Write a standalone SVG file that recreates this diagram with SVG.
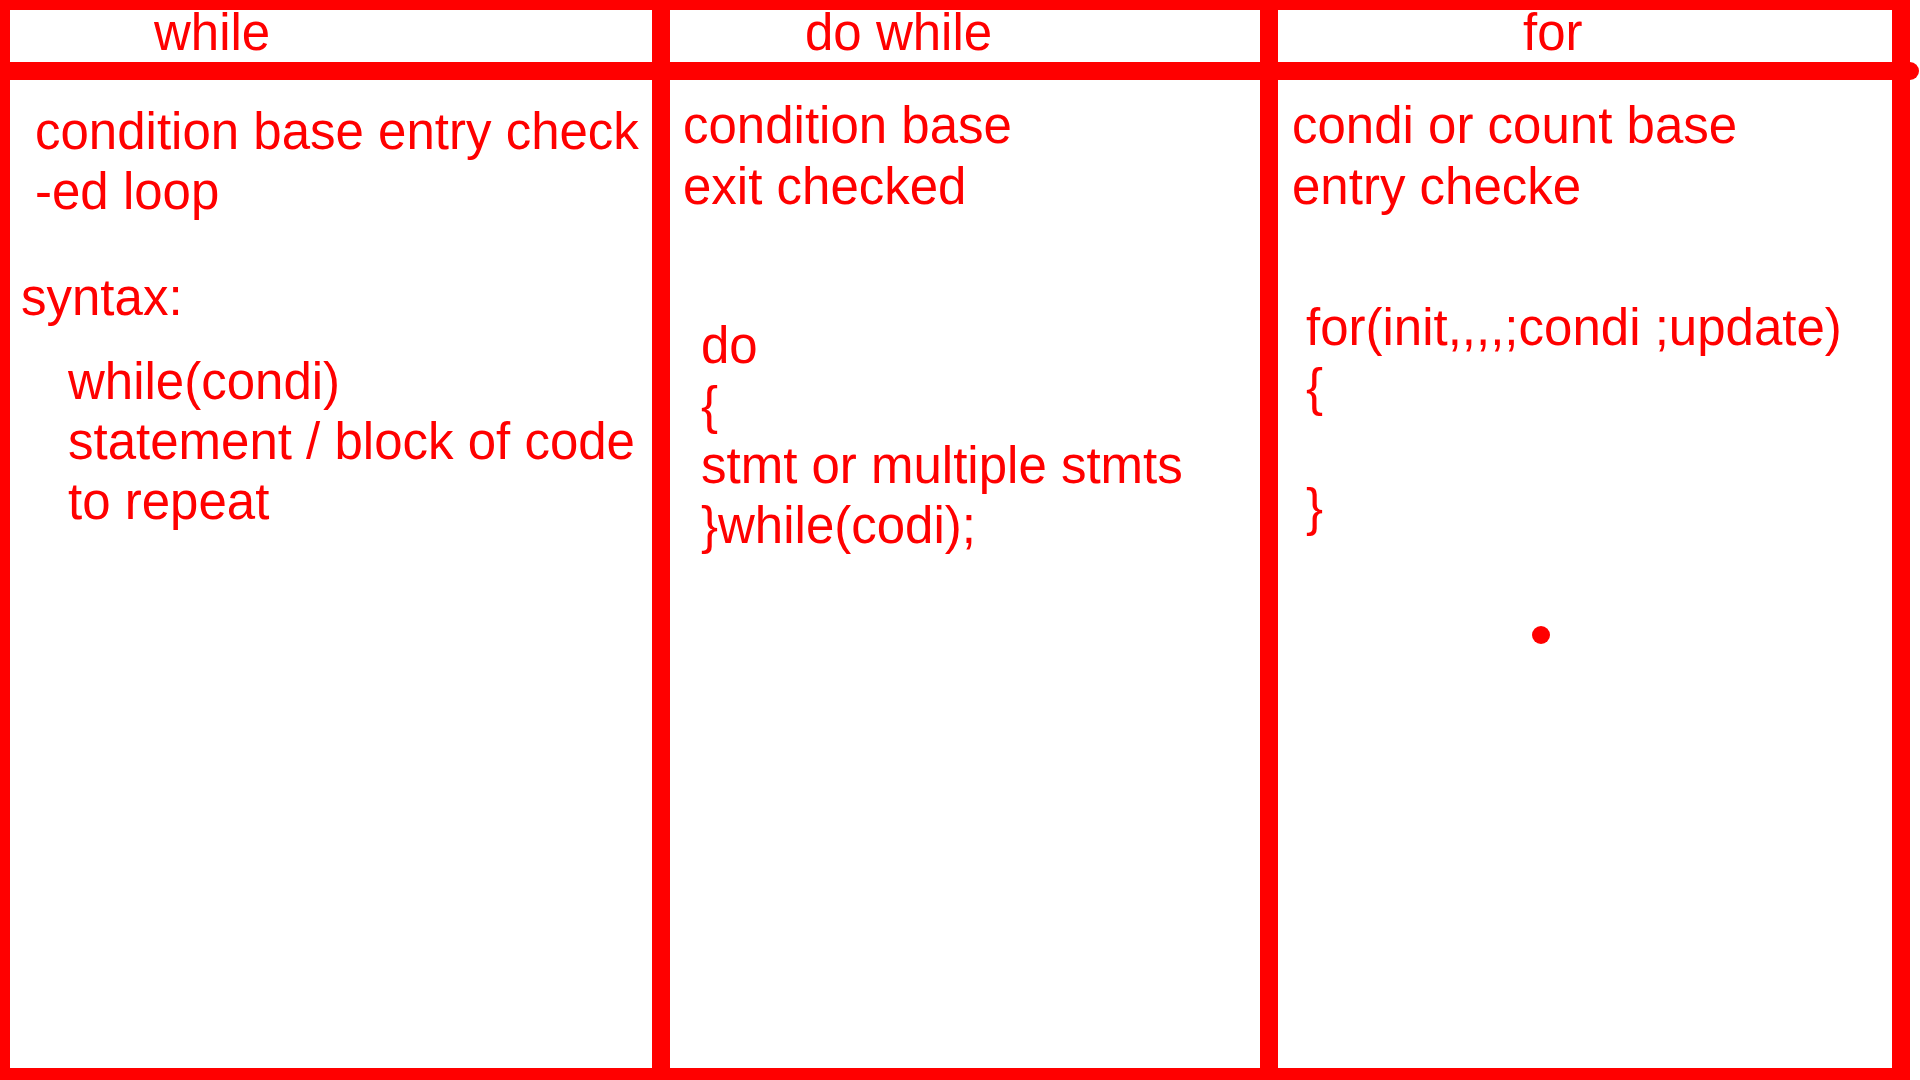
<svg xmlns="http://www.w3.org/2000/svg" width="1920" height="1080" viewBox="0 0 1920 1080">
  <style>
    .bar { fill: #FF0000; }
    .t { font-family: "Liberation Sans", Arial, sans-serif; font-size: 51px; fill: #FF0000; }
  </style>
  <rect x="0" y="0" width="1920" height="1080" fill="#FFFFFF"/>
  <g id="frame">
    <rect class="bar" x="0" y="0" width="1910" height="10"/>
    <rect class="bar" x="0" y="0" width="10" height="1080"/>
    <rect class="bar" x="0" y="1068" width="1910" height="12"/>
    <rect class="bar" x="1892" y="0" width="18" height="1080"/>
    <line x1="10" y1="71" x2="1910" y2="71" stroke="#FF0000" stroke-width="18" stroke-linecap="round"/>
    <rect class="bar" x="652" y="0" width="18" height="1080"/>
    <rect class="bar" x="1260" y="0" width="18" height="1080"/>
  </g>
  <g id="col-while">
    <text class="t" x="154" y="50">while</text>
    <text class="t" x="35" y="149">condition base entry check</text>
    <text class="t" x="35" y="209">-ed loop</text>
    <text class="t" x="21" y="315">syntax:</text>
    <text class="t" x="68" y="399">while(condi)</text>
    <text class="t" x="68" y="459">statement / block of code</text>
    <text class="t" x="68" y="519">to repeat</text>
  </g>
  <g id="col-dowhile">
    <text class="t" x="805" y="50">do while</text>
    <text class="t" x="683" y="143">condition base</text>
    <text class="t" x="683" y="204">exit checked</text>
    <text class="t" x="701" y="363">do</text>
    <text class="t" x="701" y="423">{</text>
    <text class="t" x="701" y="483">stmt or multiple stmts</text>
    <text class="t" x="701" y="543">}while(codi);</text>
  </g>
  <g id="col-for">
    <text class="t" x="1523" y="50">for</text>
    <text class="t" x="1292" y="143">condi or count base</text>
    <text class="t" x="1292" y="204">entry checke</text>
    <text class="t" x="1306" y="345">for(init,,,,;condi ;update)</text>
    <text class="t" x="1306" y="405">{</text>
    <text class="t" x="1306" y="525">}</text>
    <circle cx="1541" cy="635" r="9" fill="#FF0000"/>
  </g>
</svg>
